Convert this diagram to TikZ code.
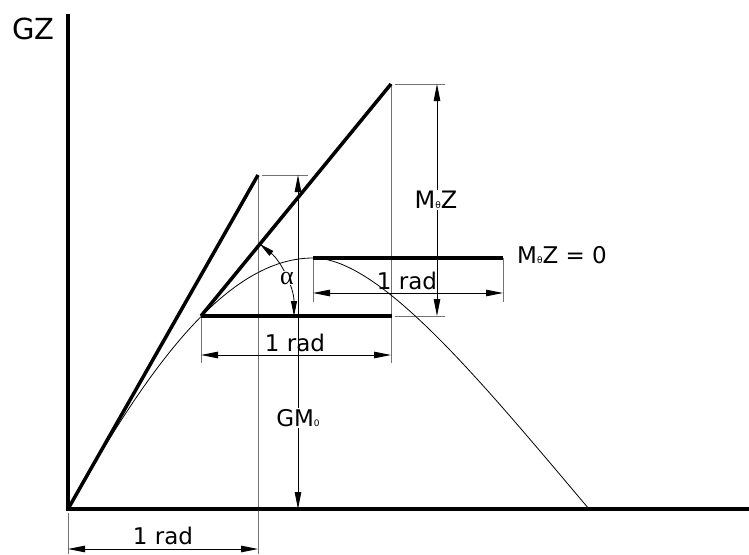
\documentclass[tikz,border=0pt]{standalone}
\usepackage{fontspec}
\setmainfont{DejaVu Sans}
\newfontfamily\alphafont{Liberation Serif}
\usetikzlibrary{arrows.meta}
\newcommand{\smallidx}[1]{{\fontsize{9pt}{9pt}\selectfont #1}}

\begin{document}
\begin{tikzpicture}[x=1pt,y=-1pt,
  thickline/.style={line width=3.5pt},
  extline/.style={line width=0.9pt,black!55},
  dimline/.style={line width=0.8pt,{Triangle[length=17pt,width=6.5pt]}-{Triangle[length=17pt,width=6.5pt]}},
  lbl/.style={font=\fontsize{23pt}{23pt}\selectfont,inner sep=1pt}]
  \useasboundingbox (0,0) rectangle (749,554);
  % key points of the construction
  \coordinate (O) at (68,509);
  \coordinate (A) at (258,175);
  \coordinate (B) at (201,316);
  \coordinate (C) at (391,84);
  \coordinate (D) at (313,258);
  \coordinate (E) at (503,258);
  \coordinate (F) at (589,509);
  % extension lines
  \draw[extline] (68,513) -- (68,554);
  \draw[extline] (A) -- (258,554);
  \draw[extline] (262,175) -- (308,175);
  \draw[extline] (B) -- (201,363);
  \draw[extline] (C) -- (391,363);
  \draw[extline] (395,84) -- (445,84);
  \draw[extline] (395,316) -- (445,316);
  \draw[extline] (D) -- (313,302);
  \draw[extline] (E) -- (503,302);
  % dimensions
  \draw[dimline] (68,549) -- (258,549);
  \draw[dimline] (201,355) -- (391,355);
  \draw[dimline] (313,293) -- (503,293);
  \draw[dimline] (298,175) -- (298,509);
  \draw[dimline] (437,84) -- (437,316);
  \draw[line width=0.8pt,{Triangle[length=15pt,width=6pt]}-{Triangle[length=15pt,width=6pt]}]
    (294,316) arc[start angle=0,end angle=-50.8,radius=93];
  % GZ curve
  \draw[line width=0.8pt] (O) .. controls (138,386) and (220,258) .. (D)
    .. controls (380,258) and (480,380) .. (F);
  % axes and tangents
  \draw[thickline] (68,14) -- (O) -- (749,509);
  \draw[thickline] (O) -- (A);
  \draw[thickline] (B) -- (C);
  \draw[thickline] (B) -- (392,316);
  \draw[thickline] (D) -- (E);
  % labels
  \node[font=\fontsize{29pt}{29pt}\selectfont,inner sep=0pt] (gz) at (33.5,28.5) {GZ};
  \node[lbl] (radlow) at (163,536) {1 rad};
  \node[lbl] (radmid) at (295,343) {1 rad};
  \node[lbl] (radtop) at (407,281) {1 rad};
  \node[lbl,fill=white] (gm) at (298,418) {GM\smallidx{0}};
  \node[lbl,fill=white,font=\fontsize{24pt}{24pt}\selectfont] (mz) at (436,200) {M\smallidx{θ}Z};
  \node[lbl,anchor=west,inner sep=0pt] (mzzero) at (517,255) {M\smallidx{θ}Z = 0};
  \node[lbl,fill=white,font=\alphafont\fontsize{26pt}{26pt}\selectfont,inner sep=0.5pt] (alpha) at (287,278) {α};
\end{tikzpicture}
\end{document}
